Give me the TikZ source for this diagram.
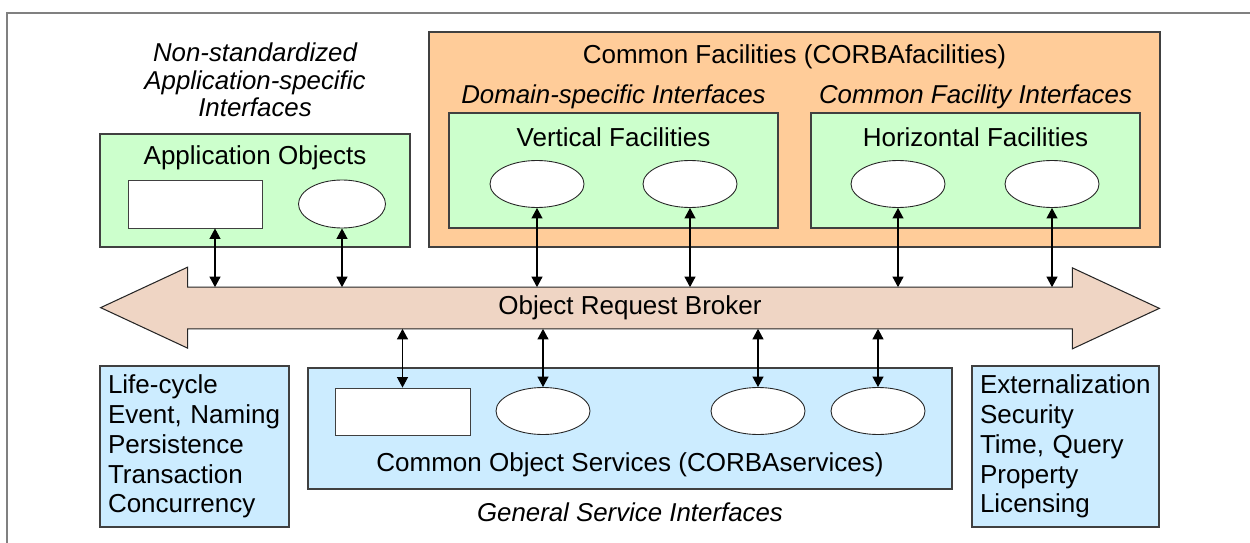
\documentclass[tikz,border=0pt]{standalone}
\usepackage{fontspec}
\setmainfont{Liberation Sans}
\usetikzlibrary{shapes.geometric,arrows.meta,calc,backgrounds}

\definecolor{appgreen}{HTML}{CCFFCC}
\definecolor{facorange}{HTML}{FFCC99}
\definecolor{svcblue}{HTML}{CCECFF}
\definecolor{orbpink}{HTML}{EFD5C4}

\begin{document}
\begin{tikzpicture}[
  box/.style={rectangle, draw=black!75, line width=0.6pt, inner sep=0pt},
  obj/.style={ellipse, draw=black!85, fill=white, line width=0.5pt, minimum width=1.88cm, minimum height=0.94cm, inner sep=0pt},
  slot/.style={rectangle, draw=black!75, fill=white, line width=0.5pt, minimum height=0.96cm, inner sep=0pt},
  heading/.style={font=\fontsize{14.8}{17}\selectfont},
  iface/.style={font=\fontsize{14.7}{15.5}\selectfont\itshape, align=center},
  list/.style={box, fill=svcblue, minimum width=3.78cm, minimum height=3.22cm, align=left, font=\fontsize{14.8}{17}\selectfont},
  link/.style={{Triangle[length=2.1mm,width=2.2mm]}-{Triangle[length=2.1mm,width=2.2mm]}, line width=0.6pt},
]

\useasboundingbox (0,0) rectangle (25,-10.86);
\draw[gray, line width=1.2pt] (0.14,-10.86) -- (0.14,-0.26) -- (25,-0.26);

% === Application objects ===
\node[iface] (nonstd) at (5.1,-1.6) {Non-standardized\\Application-specific\\Interfaces};
\node[box, fill=appgreen, minimum width=6.2cm, minimum height=2.26cm] (app) at (5.1,-3.81) {};
\node[heading] (appT) at (5.1,-3.16) {Application Objects};
\node[slot, minimum width=2.68cm] (appR) at (3.9,-4.08) {};
\node[obj, minimum width=1.74cm, minimum height=0.96cm] (appE) at (6.84,-4.08) {};

% === Common facilities ===
\node[box, fill=facorange, minimum width=14.62cm, minimum height=4.3cm] (cf) at (15.89,-2.79) {};
\node[heading] (cfT) at (15.89,-1.14) {Common Facilities (CORBAfacilities)};
\node[iface] (dom) at (12.27,-1.94) {Domain-specific Interfaces};
\node[iface] (cfi) at (19.51,-1.94) {Common Facility Interfaces};
\node[box, fill=appgreen, minimum width=6.58cm, minimum height=2.3cm] (vf) at (12.27,-3.41) {};
\node[heading] (vfT) at (12.27,-2.74) {Vertical Facilities};
\node[obj] (vf1) at (10.74,-3.68) {};
\node[obj] (vf2) at (13.8,-3.68) {};
\node[box, fill=appgreen, minimum width=6.58cm, minimum height=2.3cm] (hf) at (19.51,-3.41) {};
\node[heading] (hfT) at (19.51,-2.74) {Horizontal Facilities};
\node[obj] (hf1) at (17.96,-3.68) {};
\node[obj] (hf2) at (21.04,-3.68) {};

% === ORB (shaft node, outline behind it) ===
\node[inner sep=0pt, minimum width=17.68cm, minimum height=0.82cm, heading] (orb) at (12.6,-6.16) {Object Request Broker};
\begin{pgfonlayer}{background}
  \draw[draw=black!85, fill=orbpink, line width=0.6pt]
    (orb.north west) -- ++(0,0.4) -- ++(-1.74,-0.81) -- ++(1.74,-0.81) -- (orb.south west)
    -- (orb.south east) -- ++(0,-0.4) -- ++(1.74,0.81) -- ++(-1.74,0.81) -- (orb.north east) -- cycle;
\end{pgfonlayer}

\draw[link] ([xshift=0.4cm]appR.south) -- ([xshift=0.4cm]appR.south |- orb.north);
\draw[link] (appE) -- (appE |- orb.north);
\draw[link] (vf1) -- (vf1 |- orb.north);
\draw[link] (vf2) -- (vf2 |- orb.north);
\draw[link] (hf1) -- (hf1 |- orb.north);
\draw[link] (hf2) -- (hf2 |- orb.north);

% === Object services ===
\node[list, text width=3.46cm] (lsvc) at (3.89,-8.93) {Life-cycle\\Event, Naming\\Persistence\\Transaction\\Concurrency};
\node[box, fill=svcblue, minimum width=12.88cm, minimum height=2.42cm] (cos) at (12.6,-8.57) {};
\node[heading] (cosT) at (12.6,-9.3) {Common Object Services (CORBAservices)};
\node[iface] (gsi) at (12.6,-10.24) {General Service Interfaces};
\node[slot, minimum width=2.7cm, minimum height=0.94cm] (cosR) at (8.05,-8.23) {};
\node[obj] (cos1) at (10.86,-8.22) {};
\node[obj] (cos2) at (15.16,-8.22) {};
\node[obj] (cos3) at (17.56,-8.22) {};
\node[list, minimum width=3.74cm, text width=3.42cm] (rsvc) at (21.31,-8.93) {Externalization\\Security\\Time, Query\\Property\\Licensing};

\draw[link] (cosR.north |- orb.south) -- (cosR);
\draw[link] (cos1 |- orb.south) -- (cos1);
\draw[link] (cos2 |- orb.south) -- (cos2);
\draw[link] (cos3 |- orb.south) -- (cos3);

\end{tikzpicture}
\end{document}
